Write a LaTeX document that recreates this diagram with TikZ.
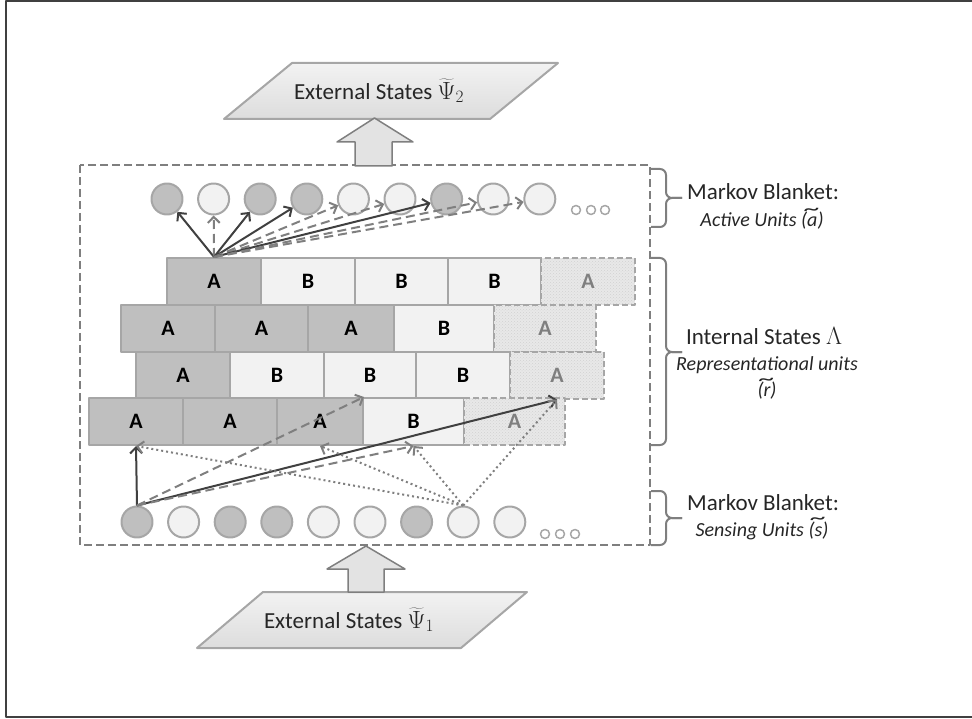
\documentclass[tikz,border=0pt]{standalone}
\usepackage{fontspec}
\setmainfont{Carlito}
\usetikzlibrary{arrows.meta,patterns}
\definecolor{unitdark}{HTML}{BFBFBF}
\definecolor{unitlight}{HTML}{F2F2F2}
\definecolor{rim}{HTML}{A6A6A6}
\definecolor{ink}{HTML}{404040}
\definecolor{mid}{HTML}{7F7F7F}
\definecolor{speckle}{HTML}{E8E8E8}
\definecolor{label}{HTML}{262626}
\newcommand{\widetil}[1]{\ooalign{#1\cr\hidewidth\raisebox{0.58em}{\scalebox{1.6}[1]{\~{}}}\hidewidth\cr}}
\begin{document}
\begin{tikzpicture}[x=1pt, y=-1pt, line join=round,
	big/.style={font=\fontsize{23}{27}\selectfont, text=label},
	small/.style={font=\fontsize{20}{24}\selectfont\itshape, text=label},
	cell/.style={draw=rim, line width=2pt, minimum height=47pt, inner sep=0pt, font=\fontsize{22}{26}\selectfont\bfseries},
	celldk/.style={cell, fill=unitdark},
	celllt/.style={cell, fill=unitlight},
	celltx/.style={cell, preaction={fill=speckle}, pattern=crosshatch dots, pattern color=gray!35, dash pattern=on 6pt off 3pt, text=mid},
	unit/.style={circle, draw=rim, line width=2pt, minimum size=31pt, inner sep=0pt},
	unitdk/.style={unit, fill=unitdark},
	unitlt/.style={unit, fill=unitlight},
	strong/.style={draw=ink, line width=2pt, -{Straight Barb[length=6pt,width=12pt]}},
	weak/.style={strong, draw=mid, dash pattern=on 9pt off 5pt},
	faint/.style={strong, draw=mid, dash pattern=on 2pt off 3pt},
	blanket/.style={draw=mid, line width=2pt, dash pattern=on 8pt off 4pt},
	brace/.style={draw=mid, line width=2pt, rounded corners=6pt},
	slab/.style={draw=rim, line width=2pt, top color=gray!10, bottom color=gray!27},
	block/.style={draw=mid, line width=1.5pt, fill=gray!22}]
	\useasboundingbox (0,0) rectangle (972,719);
	\draw[ink, line width=1.2pt] (972,1) -- (6,1) -- (6,717) -- (972,717);
	% Markov blanket
	\draw[blanket] (80,165) rectangle (650,545);
	% external states
	\path
	(224,119) coordinate (P1)
	(292,63) coordinate (P2)
	(558,63) coordinate (P3)
	(490,119) coordinate (P4)
	(197,648) coordinate (Q1)
	(263,592) coordinate (Q2)
	(527,592) coordinate (Q3)
	(461,648) coordinate (Q4);
	\draw[slab] (P1)--(P2)--(P3)--(P4)--cycle;
	\draw[slab] (Q1)--(Q2)--(Q3)--(Q4)--cycle;
	\node[big] (psi2) at (379,91) {External States $\widetilde{\Psi}_2$};
	\node[big] (psi1) at (349,620) {External States $\widetilde{\Psi}_1$};
	\draw[block] (355,166)--(355,142)--(337,142)--(374.5,118)--(413,142)--(392,142)--(392,166)--cycle;
	\draw[block] (348,592)--(348,569)--(327,569)--(366,546)--(405,569)--(384,569)--(384,592)--cycle;
	% internal states
	\foreach \r/\ya/\yb/\cells in {
		1/258/305/{167/261/dk/A,261/355/lt/B,355/448/lt/B,448/541/lt/B,541/635/tx/A},
		2/305/352/{121/215/dk/A,215/308/dk/A,308/394/dk/A,394/494/lt/B,494/596/tx/A},
		3/352/398/{136/230/dk/A,230/324/lt/B,324/416/lt/B,416/510/lt/B,510/604/tx/A},
		4/398/445/{89/183/dk/A,183/277/dk/A,277/363/dk/A,363/464/lt/B,464/565/tx/A}}
	\foreach \xa/\xb/\t/\l [count=\c] in \cells
	\node[cell\t, minimum width={(\xb-\xa)*1pt}] (r\r\c) at ({(\xa+\xb)/2},{(\ya+\yb)/2}) {\l};
	% active and sensing units
	\foreach \t [count=\i] in {dk,lt,dk,dk,lt,lt,dk,lt,lt} {
		\node[unit\t] (a\i) at ({167+46.6*(\i-1)},199) {};
		\node[unit\t] (s\i) at ({137+46.6*(\i-1)},522) {};
	}
	\foreach \x in {576,591,605} \draw[rim, line width=1.5pt] (\x,210) circle[radius=4.5pt];
	\foreach \x in {545,560,575} \draw[rim, line width=1.5pt] (\x,534) circle[radius=4.5pt];
	% connections
	\foreach \i/\k in {1/strong,2/weak,3/strong,4/strong,5/weak,6/weak,7/strong,8/weak,9/weak} \draw[\k] (r11.north) -- (a\i);
	\draw[strong] (s1.north) -- (r41.south);
	\draw[strong] (s1.north) -- (r35.south);
	\draw[weak] (s1.north) -- (r43.north east);
	\draw[weak] (s1.north) -- (r44.south);
	\foreach \t in {r41.south,r43.south,r44.south,r35.south} \draw[faint] (s8.north) -- (\t);
	% braces and labels
	\foreach \ya/\ym/\yb in {169/198/227,258/352/445,491/518/545} {
		\draw[brace] (651,\ya) -| (666,\ym) -- (682,\ym);
		\draw[brace] (651,\yb) -| (666,\ym) -- (682,\ym);
	}
	\node[big] (mb1) at (763,192) {Markov Blanket:};
	\node[small] (au) at (762,221) {Active Units (\widetil{a})};
	\node[big] (ist) at (764,336) {Internal States $\Lambda$};
	\node[small] (ru) at (767,365) {Representational units};
	\node[small] (rr) at (767,391) {(\widetil{r})};
	\node[big] (mb2) at (763,503) {Markov Blanket:};
	\node[small] (su) at (762,531) {Sensing Units (\widetil{s})};
\end{tikzpicture}
\end{document}
